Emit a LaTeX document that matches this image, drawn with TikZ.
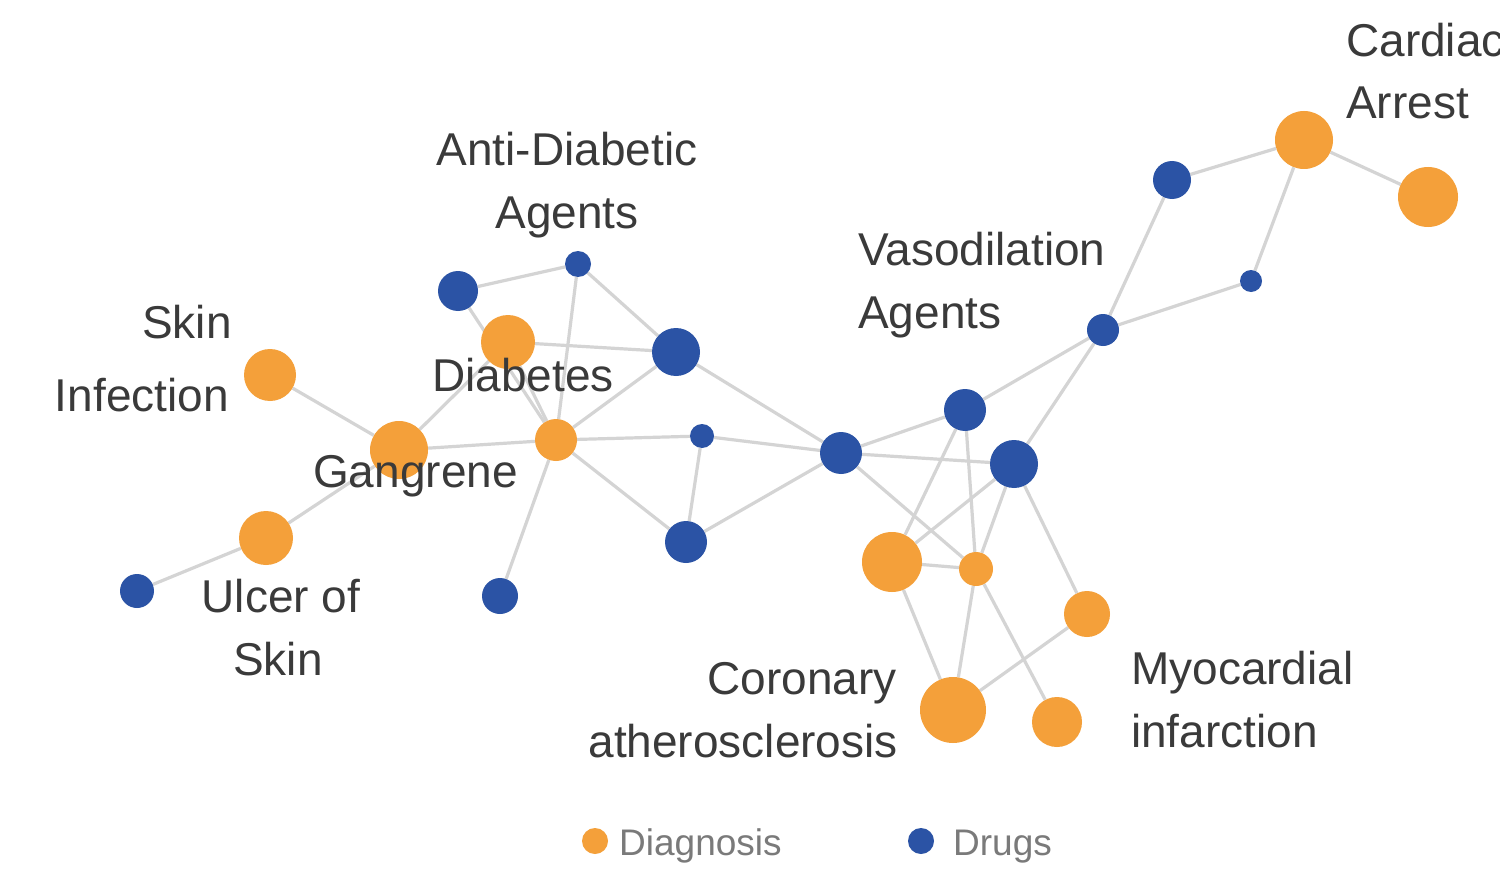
\documentclass[tikz,border=0pt]{standalone}
\usepackage{fontspec}
\setmainfont{Liberation Sans}
\usetikzlibrary{backgrounds}
\definecolor{dorange}{HTML}{F4A03A}
\definecolor{dblue}{HTML}{2B53A5}
\definecolor{edgegray}{HTML}{D4D4D4}
\definecolor{labelgray}{HTML}{3A3A3A}
\definecolor{leggray}{HTML}{7A7A7A}
\begin{document}
\begin{tikzpicture}[x=1pt,y=-1pt,
  dg/.style={circle,fill=dorange,inner sep=0pt,minimum size=#1},
  dr/.style={circle,fill=dblue,inner sep=0pt,minimum size=#1},
  link/.style={draw=edgegray,line width=3.2pt},
  lbl/.style={text=labelgray,inner sep=0pt,font=\fontsize{46}{55}\selectfont},
  leg/.style={text=leggray,inner sep=0pt,font=\fontsize{37}{44}\selectfont}]
\useasboundingbox (0,0) rectangle (1500,888);
% nodes
\node[dg=52] (skin) at (270,375) {};
\node[dg=58] (gang) at (399,450) {};
\node[dg=54] (ulcer) at (266,538) {};
\node[dr=34] (ud) at (137,591) {};
\node[dg=54] (diab) at (508,342) {};
\node[dr=40] (d1) at (458,291) {};
\node[dr=26] (d2) at (578,264) {};
\node[dr=48] (d3) at (676,352) {};
\node[dg=42] (o1) at (556,440) {};
\node[dr=24] (d4) at (702,436) {};
\node[dr=42] (d5) at (686,542) {};
\node[dr=36] (d6) at (500,596) {};
\node[dr=42] (d7) at (841,453) {};
\node[dr=42] (d8) at (965,410) {};
\node[dr=48] (d9) at (1014,464) {};
\node[dr=32] (d10) at (1103,330) {};
\node[dr=38] (d11) at (1172,180) {};
\node[dr=22] (d12) at (1251,281) {};
\node[dg=58] (ca) at (1304,140) {};
\node[dg=60] (ca2) at (1428,197) {};
\node[dg=60] (cor1) at (892,562) {};
\node[dg=34] (o2) at (976,569) {};
\node[dg=46] (mi1) at (1087,614) {};
\node[dg=66] (coron) at (953,710) {};
\node[dg=50] (mi2) at (1057,722) {};
% edges
\begin{scope}[on background layer]
\fill[white] (0,0) rectangle (1500,888);
\draw[link] (skin) -- (gang);
\draw[link] (gang) -- (ulcer);
\draw[link] (ulcer) -- (ud);
\draw[link] (gang) -- (o1);
\draw[link] (gang) -- (diab);
\draw[link] (d1) -- (d2);
\draw[link] (d1) -- (o1);
\draw[link] (diab) -- (o1);
\draw[link] (d2) -- (o1);
\draw[link] (d2) -- (d3);
\draw[link] (diab) -- (d3);
\draw[link] (d3) -- (o1);
\draw[link] (o1) -- (d4);
\draw[link] (o1) -- (d5);
\draw[link] (o1) -- (d6);
\draw[link] (d4) -- (d5);
\draw[link] (d4) -- (d7);
\draw[link] (d3) -- (d7);
\draw[link] (d5) -- (d7);
\draw[link] (d7) -- (d8);
\draw[link] (d7) -- (d9);
\draw[link] (d7) -- (o2);
\draw[link] (d8) -- (d10);
\draw[link] (d9) -- (d10);
\draw[link] (d8) -- (cor1);
\draw[link] (d8) -- (o2);
\draw[link] (d9) -- (cor1);
\draw[link] (d9) -- (o2);
\draw[link] (d9) -- (mi1);
\draw[link] (cor1) -- (o2);
\draw[link] (cor1) -- (coron);
\draw[link] (o2) -- (coron);
\draw[link] (o2) -- (mi2);
\draw[link] (coron) -- (mi1);
\draw[link] (d10) -- (d11);
\draw[link] (d10) -- (d12);
\draw[link] (d11) -- (ca);
\draw[link] (d12) -- (ca);
\draw[link] (ca) -- (ca2);
\end{scope}
% labels
\node[lbl,anchor=base west] (tcard1) at (1346,57) {Cardiac};
\node[lbl,anchor=base west] (tcard2) at (1346,119) {Arrest};
\node[lbl,anchor=base] (tanti1) at (567,165) {Anti-Diabetic};
\node[lbl,anchor=base] (tanti2) at (567,228) {Agents};
\node[lbl,anchor=base west] (tvaso1) at (858,265) {Vasodilation};
\node[lbl,anchor=base west] (tvaso2) at (858,328) {Agents};
\node[lbl,anchor=base east] (tskin1) at (232,338) {Skin};
\node[lbl,anchor=base east] (tskin2) at (229,411) {Infection};
\node[lbl,anchor=base west] (tdiab) at (432,391) {Diabetes};
\node[lbl,anchor=base west] (tgang) at (313,487) {Gangrene};
\node[lbl,anchor=base] (tulc1) at (281,612) {Ulcer of};
\node[lbl,anchor=base] (tulc2) at (278,675) {Skin};
\node[lbl,anchor=base east] (tcor1) at (897,694) {Coronary};
\node[lbl,anchor=base east] (tcor2) at (898,757) {atherosclerosis};
\node[lbl,anchor=base west] (tmi1) at (1131,684) {Myocardial};
\node[lbl,anchor=base west] (tmi2) at (1131,747) {infarction};
% legend
\node[dg=26] (lgd) at (595,841) {};
\node[leg,anchor=base west] (tlgd) at (619,855) {Diagnosis};
\node[dr=26] (lgr) at (921,841) {};
\node[leg,anchor=base west] (tlgr) at (953,855) {Drugs};
\end{tikzpicture}
\end{document}
